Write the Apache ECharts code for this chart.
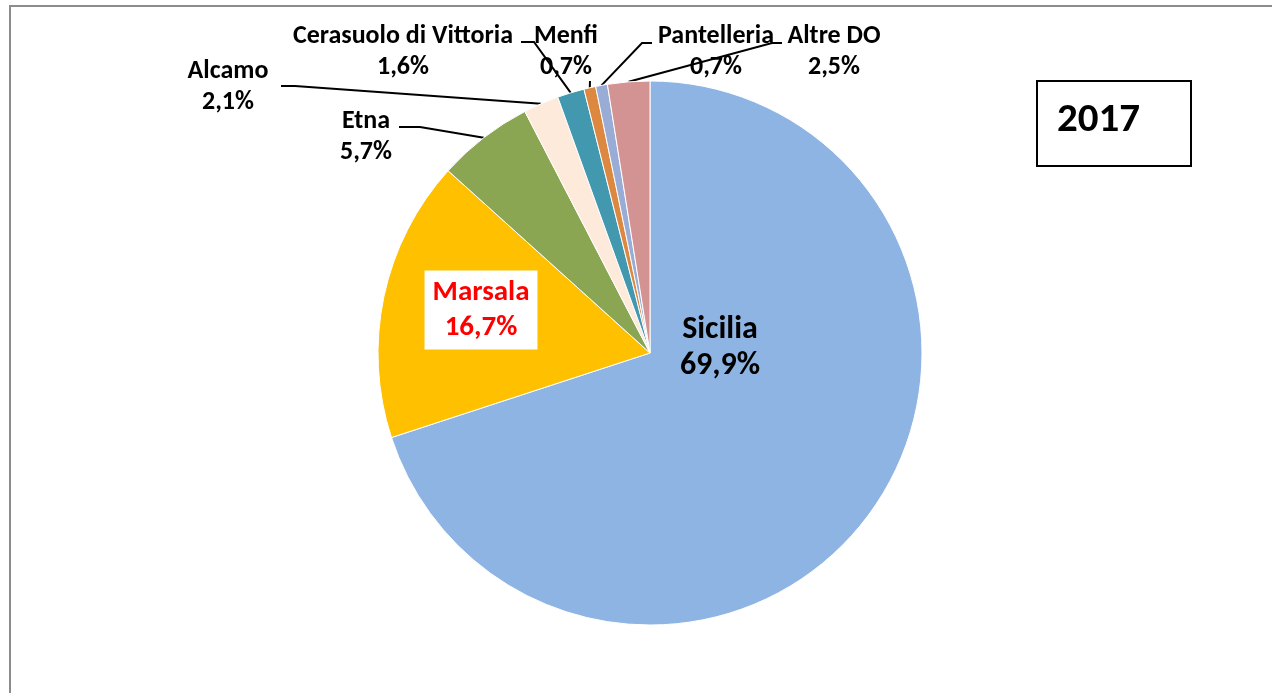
<!DOCTYPE html>
<html>
<head>
<meta charset="utf-8">
<script src="https://cdn.jsdelivr.net/npm/echarts@6/dist/echarts.min.js"></script>
<style>
html,body{margin:0;padding:0;background:#fff;}
#chart{width:1272px;height:693px;}
</style>
</head>
<body>
<div id="chart"></div>
<script>
const categories = ['Sicilia', 'Marsala', 'Etna', 'Alcamo', 'Cerasuolo di Vittoria', 'Menfi', 'Pantelleria', 'Altre DO'];
const shares = [69.9, 16.7, 5.7, 2.1, 1.6, 0.7, 0.7, 2.5];
const sliceColors = ['#8EB4E3', '#FFC000', '#8AA653', '#FDEADA', '#4198AF', '#DD8840', '#98ACD6', '#D39392'];
const yearLabel = '2017';

// label placement (layout only)
const labelPos = [
  {x: 720, y: 348, line: null},
  {x: 481, y: 310, line: null},
  {x: 366, y: 137, line: [[420, 127], [399, 127]]},
  {x: 228, y: 87, line: [[295, 86], [281, 86]]},
  {x: 403, y: 52, line: [[534, 42], [521, 42]]},
  {x: 566, y: 52, line: [[590, 81]]},
  {x: 716, y: 52, line: [[642, 43], [652, 43]]},
  {x: 834, y: 52, line: [[772, 43], [782, 43]]}
];

const FONT = 'Carlito, Lato, "Open Sans", sans-serif';
const fmt = v => v.toFixed(1).replace('.', ',') + '%';

const data = categories.map((name, i) => {
  const item = {name: name, value: shares[i], itemStyle: {color: sliceColors[i]}};
  if (i === 0) {
    item.label = {fontSize: 32, lineHeight: 36, color: '#000'};
    item.labelLine = {show: false};
  } else if (i === 1) {
    item.label = {fontSize: 29, lineHeight: 35, color: '#FF0000', backgroundColor: '#fff', padding: [5, 8, 4, 8]};
    item.labelLine = {show: false};
  }
  return item;
});

const chart = echarts.init(document.getElementById('chart'), null, {renderer: 'canvas'});
chart.setOption({
  backgroundColor: '#fff',
  animation: false,
  graphic: [
    {type: 'rect', shape: {x: 10, y: 6, width: 1280, height: 720}, style: {fill: 'none', stroke: '#8c8c8c', lineWidth: 2}, silent: true},
    {type: 'rect', shape: {x: 1037, y: 81, width: 154, height: 85}, style: {fill: '#fff', stroke: '#000', lineWidth: 2}, silent: true},
    {type: 'text', x: 1057, y: 121, style: {text: yearLabel, font: 'bold 41px ' + FONT, fill: '#000', verticalAlign: 'middle', align: 'left'}, silent: true}
  ],
  series: [{
    type: 'pie',
    center: [650, 353],
    radius: [0, 272],
    startAngle: 90,
    clockwise: true,
    avoidLabelOverlap: false,
    itemStyle: {borderColor: '#fff', borderWidth: 1},
    label: {
      show: true,
      position: 'outside',
      formatter: p => p.name + '\n' + fmt(p.value),
      fontFamily: FONT,
      fontWeight: 'bold',
      fontSize: 26,
      lineHeight: 31,
      color: '#000',
      align: 'center'
    },
    labelLine: {show: true, length: 10, length2: 10, lineStyle: {color: '#000', width: 2}},
    labelLayout: function (params) {
      const lp = labelPos[params.dataIndex];
      const res = {x: lp.x, y: lp.y, align: 'center', verticalAlign: 'middle'};
      if (lp.line && params.labelLinePoints) {
        res.labelLinePoints = [params.labelLinePoints[0]].concat(lp.line);
      }
      return res;
    },
    data: data
  }]
});
</script>
</body>
</html>
